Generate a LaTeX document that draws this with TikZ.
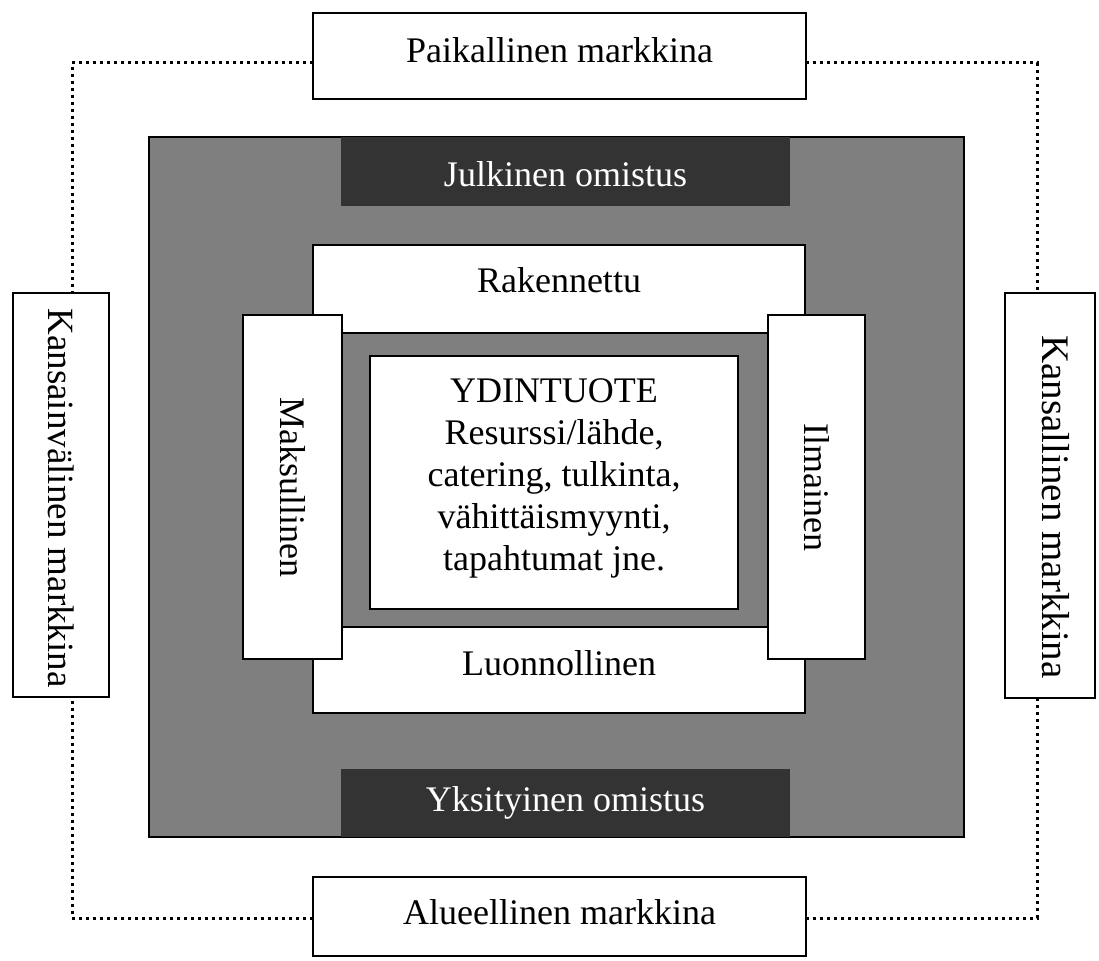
\documentclass[tikz,border=0pt]{standalone}
\usepackage{fontspec}
\setmainfont{Liberation Serif}
\definecolor{midgray}{HTML}{7F7F7F}
\definecolor{darkbox}{HTML}{333333}
\begin{document}
\begin{tikzpicture}[x=1pt,y=-1pt,
  every node/.style={font=\fontsize{36}{42}\selectfont, inner sep=0pt, outer sep=0pt},
  wbox/.style={draw=black, line width=1.3pt, fill=white, rectangle},
  gbox/.style={draw=black, line width=1.3pt, fill=midgray, rectangle},
  dbox/.style={fill=darkbox, rectangle},
  lbl/.style={},
  wlbl/.style={text=white},
  dotline/.style={line width=3pt, dash pattern=on 3pt off 4pt, black}
]
\useasboundingbox (0,0) rectangle (1099,960);
% outer market boxes
\node[wbox, minimum width=493pt, minimum height=86pt] (top) at (559.5,56) {};
\node[lbl] (toptxt) at (559.5,50) {Paikallinen markkina};
\node[wbox, minimum width=493pt, minimum height=79pt] (bot) at (559.5,916.5) {};
\node[lbl] (bottxt) at (559.5,912) {Alueellinen markkina};
\node[wbox, minimum width=96pt, minimum height=404pt] (left) at (61,495) {};
\node[lbl, rotate=-90, font=\fontsize{37}{42}\selectfont] (lefttxt) at (61,498) {Kansainvälinen markkina};
\node[wbox, minimum width=90pt, minimum height=405pt] (right) at (1050,495.5) {};
\node[lbl, rotate=-90, font=\fontsize{39}{44}\selectfont] (righttxt) at (1056,507) {Kansallinen markkina};
% dotted connectors
\draw[dotline] ([yshift=-7pt]top.west) -| ([xshift=11pt]left.north);
\draw[dotline] ([yshift=-7pt]top.east) -| ([xshift=-13pt]right.north);
\draw[dotline] ([yshift=-1.5pt]bot.west) -| ([xshift=11pt]left.south);
\draw[dotline] ([yshift=-1.5pt]bot.east) -| ([xshift=-13pt]right.south);
% gray ownership frame
\node[gbox, minimum width=815pt, minimum height=700pt] (own) at (556.5,487) {};
\node[dbox, minimum width=449pt, minimum height=69pt] (pub) at (565.5,171.5) {};
\node[wlbl] (pubtxt) at (565.5,174.5) {Julkinen omistus};
\node[dbox, minimum width=449pt, minimum height=68pt] (priv) at (565.5,803) {};
\node[wlbl] (privtxt) at (565.5,803) {Yksityinen omistus};
% built / natural
\node[wbox, minimum width=492pt, minimum height=468pt] (mid) at (559,479) {};
\node[lbl] (rak) at (559,280) {Rakennettu};
\node[lbl] (luo) at (559,663) {Luonnollinen};
% inner gray and core product
\node[gbox, minimum width=450pt, minimum height=294pt] (ig) at (555,480) {};
\node[wbox, minimum width=368pt, minimum height=253pt] (core) at (554,482.5) {};
\node[lbl, align=center] (coretxt) at (554,478) {YDINTUOTE\\Resurssi/lähde,\\catering, tulkinta,\\vähittäismyynti,\\tapahtumat jne.};
% paid / free
\node[wbox, rotate=-90, minimum width=344pt, minimum height=99pt] (paid) at (292.5,487) {Maksullinen};
\node[wbox, rotate=-90, minimum width=344pt, minimum height=97pt] (free) at (816.5,487) {Ilmainen};
\end{tikzpicture}
\end{document}
